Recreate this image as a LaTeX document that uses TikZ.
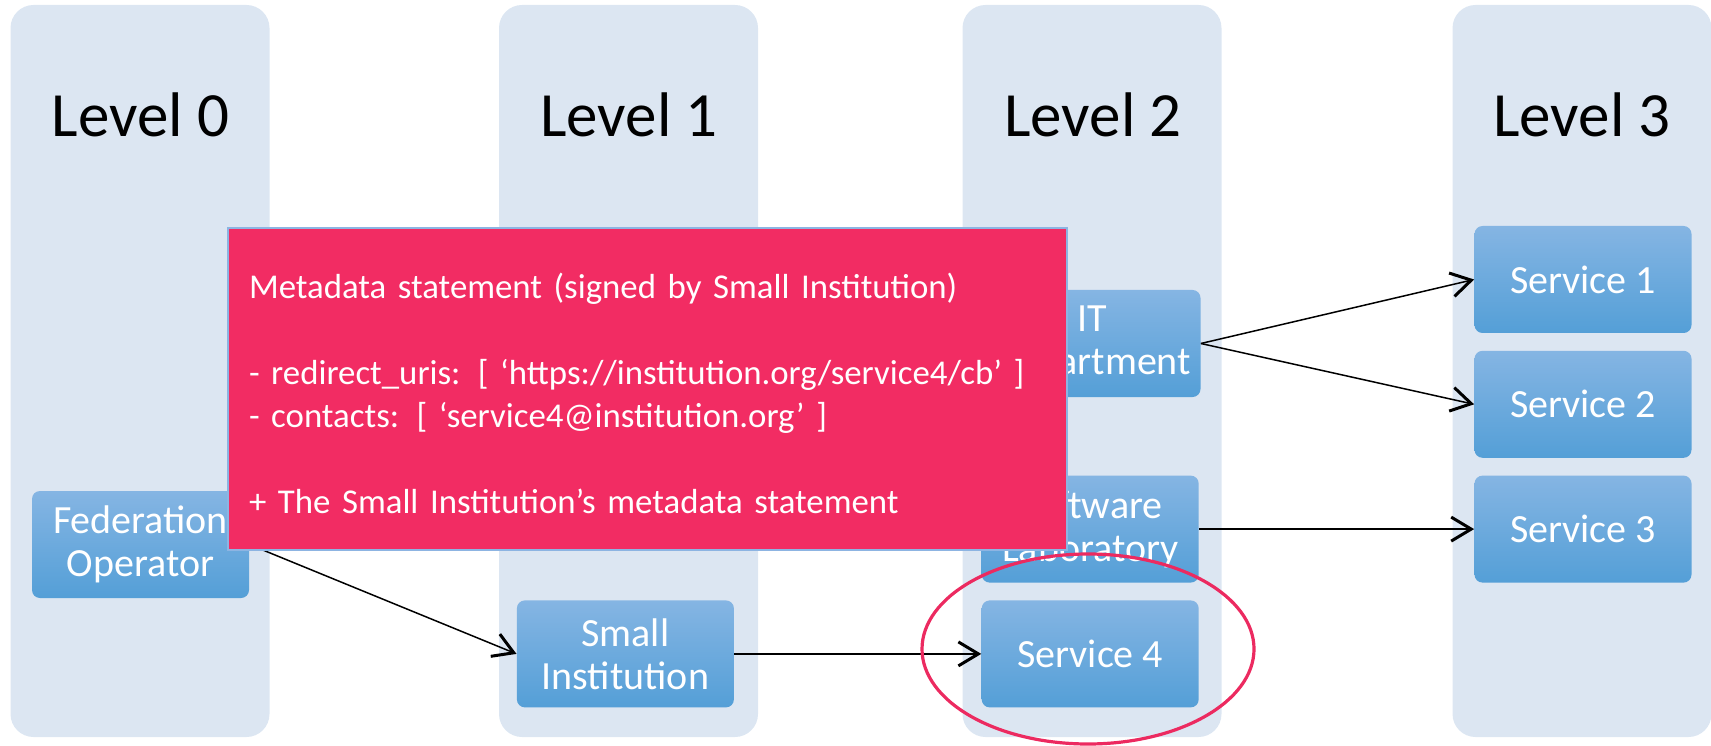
\documentclass[tikz,border=0pt]{standalone}
\usepackage{fontspec}
\setmainfont{Carlito}
\usetikzlibrary{positioning, arrows.meta, shapes.geometric}
\definecolor{colfill}{RGB}{220,230,242}
\definecolor{boxtop}{RGB}{133,181,227}
\definecolor{boxbottom}{RGB}{84,159,215}
\definecolor{notefill}{RGB}{242,44,99}
\definecolor{noteedge}{RGB}{141,180,226}
\definecolor{markred}{RGB}{236,42,96}
\tikzset{
column/.style={
  fill=colfill,
  rounded corners=11.5pt,
  minimum width=129.5pt,
  minimum height=366pt
  },
title/.style={
  anchor=base,
  font=\fontsize{31.5}{38}\selectfont
  },
box/.style={
  rectangle,
  rounded corners=4pt,
  top color=boxtop,
  bottom color=boxbottom,
  minimum width=108.5pt,
  minimum height=53.5pt,
  text=white, align=center,
  font=\fontsize{20}{21.5}\selectfont
  },
note/.style={
  rectangle,
  fill=notefill,
  draw=noteedge, line width=0.6pt,
  minimum width=419.5pt,
  minimum height=161pt,
  inner xsep=10.5pt,
  text width=398.5pt, align=left,
  text=white,
  font=\fontsize{17.4}{21.5}\selectfont
  },
highlight/.style={
  ellipse,
  draw=markred, line width=1.6pt,
  minimum width=166pt,
  minimum height=95pt
  },
line/.style={->, >={Straight Barb[length=10pt,width=12pt,line width=1.5pt]}, line width=0.75pt}
}

\begin{document}
\begin{tikzpicture}[x=0.5pt, y=0.5pt]
\useasboundingbox (0,0) rectangle (1711,745);

\node[column]	(col0)	at (140,374)	{};
\node[column]	(col1)	at (628.5,374)	{};
\node[column]	(col2)	at (1092,374)	{};
\node[column]	(col3)	at (1582,374)	{};

\node[title]	(level0)	at (140.5,608)	{Level 0};
\node[title]	(level1)	at (629,608)	{Level 1};
\node[title]	(level2)	at (1093,608)	{Level 2};
\node[title]	(level3)	at (1582,608)	{Level 3};

\node[box]	(svc1)		at (1583,465.5)					{Service 1};
\node[box]	(svc2)		[below=8.5pt of svc1]			{Service 2};
\node[box]	(svc3)		[below=8.5pt of svc2]			{Service 3};
\node[box]	(softlab)	[left=137.5pt of svc3]			{Software\\Laboratory};
\node[box]	(svc4)		[below=8.5pt of softlab]		{Service 4};
\node[box]	(small)		[left=123.5pt of svc4]			{Small\\Institution};
\node[box]	(itdept)	at (1092,401.5)					{IT\\Department};
\node[box]	(fedop)		at (140.5,200.5)				{Federation\\Operator};

\draw[line]	(fedop.east)	--	(small.west);
\draw[line]	(small.east)	--	(svc4.west);
\draw[line]	(itdept.east)	--	(svc1.west);
\draw[line]	(itdept.east)	--	(svc2.west);
\draw[line]	(softlab.east)	--	(svc3.west);

\node[note]	(statement)	at (647.5,356)	{\rule{0pt}{\dimexpr\fontcharht\font`\(+4.4pt\relax}Metadata statement (signed by Small Institution)\\ ~\\ - redirect\_uris: [ ‘https://institution.org/service4/cb’ ]\\ - contacts: [ ‘service4@institution.org’ ]\\ ~\\ + The Small Institution’s metadata statement};

\node[highlight]	(focus)	at (1088,96)	{};
\end{tikzpicture}
\end{document}
